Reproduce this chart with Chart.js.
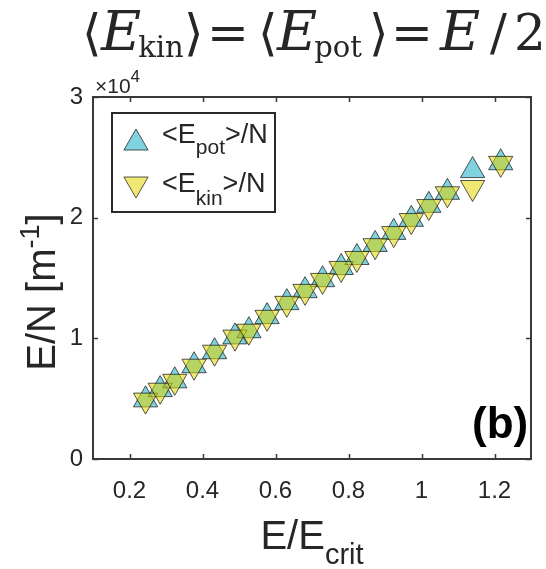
<!DOCTYPE html>
<html>
<head>
<meta charset="utf-8">
<script src="https://cdn.jsdelivr.net/npm/chart.js@4.4.0/dist/chart.umd.min.js"></script>
<style>
  html, body { margin: 0; padding: 0; background: #fff; }
</style>
</head>
<body>
<canvas id="grafico" width="546" height="569"></canvas>
<script>
// E/E_crit de cada simulação
const xVals = [0.244, 0.284, 0.324, 0.377, 0.433, 0.489, 0.527, 0.577, 0.631, 0.681,
               0.729, 0.780, 0.823, 0.873, 0.924, 0.972, 1.020, 1.071, 1.140, 1.217];
// <E_pot>/N e <E_kin>/N  [m^-1]
const potVals = [4900, 5750, 6480, 7730, 8890, 10120, 10630, 11800, 12960, 13950,
                 14860, 15870, 16700, 17780, 18780, 19860, 21020, 22100, 23900, 24550];
const kinVals = [4880, 5700, 6440, 7690, 8850, 10100, 10590, 11740, 12900, 13890,
                 14800, 15790, 16620, 17680, 18680, 19760, 20920, 21980, 22500, 24500];
const xTicks = [0.2, 0.4, 0.6, 0.8, 1, 1.2];
const yTicks = [0, 10000, 20000, 30000];

const corTexto = '#262626';
const sans = '"Liberation Sans", Arial, sans-serif';
const serif = '"DejaVu Serif", serif';

const estiloPot = { fill: 'rgba(0,165,190,0.5)', rot: 0 };
const estiloKin = { fill: 'rgba(225,215,0,0.55)', rot: 180 };
const borda = 'rgba(30,30,30,0.75)';
const raio = 14;

// desenha pedaços de texto em sequência: [texto, fonte, deslocamento vertical]
function escreve(ctx, partes, x, y) {
  let cx = x;
  partes.forEach(([t, f, dy]) => {
    ctx.font = f;
    ctx.fillText(t, cx, y + (dy || 0));
    cx += ctx.measureText(t).width;
  });
  return cx - x;
}
function largura(ctx, partes) {
  let w = 0;
  partes.forEach(([t, f]) => { ctx.font = f; w += ctx.measureText(t).width; });
  return w;
}

function triangulo(ctx, estilo, x, y) {
  ctx.fillStyle = estilo.fill;
  ctx.strokeStyle = borda;
  ctx.lineWidth = 1;
  Chart.helpers.drawPoint(ctx, { pointStyle: 'triangle', rotation: estilo.rot, radius: raio, borderWidth: 1 }, x, y);
}

const moldura = {
  id: 'moldura',
  beforeDatasetsDraw(chart) {
    const { ctx, chartArea: a, scales: { x, y } } = chart;
    ctx.save();
    ctx.strokeStyle = '#3a3a3a';
    ctx.lineWidth = 2;
    ctx.strokeRect(a.left, a.top, a.right - a.left, a.bottom - a.top);
    ctx.lineWidth = 1.5;
    ctx.beginPath();
    xTicks.forEach(v => {
      const px = Math.round(x.getPixelForValue(v)) + 0.5;
      ctx.moveTo(px, a.bottom); ctx.lineTo(px, a.bottom - 5);
      ctx.moveTo(px, a.top); ctx.lineTo(px, a.top + 5);
    });
    yTicks.forEach(v => {
      const py = Math.round(y.getPixelForValue(v)) + 0.5;
      ctx.moveTo(a.left, py); ctx.lineTo(a.left + 5, py);
      ctx.moveTo(a.right, py); ctx.lineTo(a.right - 5, py);
    });
    ctx.stroke();
    ctx.restore();
  },
  afterDraw(chart) {
    const { ctx, chartArea: a } = chart;
    ctx.save();
    ctx.fillStyle = corTexto;
    ctx.textBaseline = 'alphabetic';

    // titulo em estilo LaTeX: <E_kin> = <E_pot> = E/2
    const fE = 'italic 55px ' + serif, fR = '50px ' + serif, fS = '29px ' + serif;
    const pe = (x, sub) => {
      ctx.font = fE; ctx.fillText('E', x, 50);
      const xs = x + ctx.measureText('E').width - 3;
      ctx.font = fS; ctx.fillText(sub, xs, 57);
    };
    const titulo = [['\u27E8', 82], ['\u27E9', 184], ['=', 207], ['\u27E8', 258], ['\u27E9', 369], ['=', 391], ['/', 490], ['2', 514]];
    ctx.font = fR;
    titulo.forEach(([t, x]) => ctx.fillText(t, x, 50));
    pe(101, 'kin');
    pe(277, 'pot');
    ctx.font = fE; ctx.fillText('E', 440, 50);

    // multiplicador do eixo y
    escreve(ctx, [['\u00D710', '21px ' + sans, 0], ['4', '17px ' + sans, -11]], 95, 93);

    // legenda
    ctx.fillStyle = '#fff';
    ctx.fillRect(112, 113, 163, 99);
    ctx.strokeStyle = '#2a2a2a';
    ctx.lineWidth = 2;
    ctx.strokeRect(112, 113, 163, 99);
    triangulo(ctx, estiloPot, 136, 143);
    triangulo(ctx, estiloKin, 136, 184);
    ctx.fillStyle = corTexto;
    const fL = '27px ' + sans, fLs = '21px ' + sans;
    escreve(ctx, [['<E', fL, 0], ['pot', fLs, 11], ['>/N', fL, 0]], 162, 143);
    escreve(ctx, [['<E', fL, 0], ['kin', fLs, 13], ['>/N', fL, 0]], 162, 192);

    // rotulo do eixo x
    const px = [['E/E', '40px ' + sans, 0], ['crit', '29px ' + sans, 15]];
    const wx = largura(ctx, px);
    escreve(ctx, px, (a.left + a.right) / 2 - wx / 2, 549);

    // rotulo do eixo y
    const py = [['E/N [m', '40px ' + sans, 0], ['-1', '27px ' + sans, -16], [']', '40px ' + sans, 0]];
    const wy = largura(ctx, py);
    ctx.save();
    ctx.translate(55, 292);
    ctx.rotate(-Math.PI / 2);
    escreve(ctx, py, -wy / 2, 0);
    ctx.restore();

    // (b)
    ctx.fillStyle = '#000';
    ctx.font = 'bold 44px ' + sans;
    ctx.fillText('(b)', 472, 438);
    ctx.restore();
  }
};

new Chart(document.getElementById('grafico'), {
  type: 'scatter',
  data: {
    datasets: [
      {
        label: '<E_kin>/N',
        data: xVals.map((x, i) => ({ x, y: kinVals[i] })),
        pointStyle: 'triangle',
        pointRotation: estiloKin.rot,
        pointRadius: raio,
        pointBackgroundColor: estiloKin.fill,
        pointBorderColor: borda,
        pointBorderWidth: 1,
        order: 1
      },
      {
        label: '<E_pot>/N',
        data: xVals.map((x, i) => ({ x, y: potVals[i] })),
        pointStyle: 'triangle',
        pointRotation: estiloPot.rot,
        pointRadius: raio,
        pointBackgroundColor: estiloPot.fill,
        pointBorderColor: borda,
        pointBorderWidth: 1,
        order: 2
      }
    ]
  },
  options: {
    responsive: false,
    animation: false,
    devicePixelRatio: 1,
    layout: { padding: { left: 0, top: 97, right: 4, bottom: 0 } },
    plugins: { legend: { display: false }, tooltip: { enabled: false } },
    scales: {
      x: {
        type: 'linear',
        min: 0.1,
        max: 1.3,
        afterBuildTicks: s => { s.ticks = xTicks.map(v => ({ value: v })); },
        afterFit: s => { s.height = 110; },
        grid: { display: false, drawTicks: false },
        border: { display: false },
        ticks: {
          padding: 18,
          autoSkip: false,
          maxRotation: 0,
          color: corTexto,
          font: { family: sans, size: 24 },
          callback: v => String(v)
        }
      },
      y: {
        min: 0,
        max: 30000,
        afterBuildTicks: s => { s.ticks = yTicks.map(v => ({ value: v })); },
        afterFit: s => { s.width = 93; },
        grid: { display: false, drawTicks: false },
        border: { display: false },
        ticks: {
          padding: 10,
          color: corTexto,
          font: { family: sans, size: 24 },
          callback: v => String(v / 10000)
        }
      }
    }
  },
  plugins: [moldura]
});
</script>
</body>
</html>
